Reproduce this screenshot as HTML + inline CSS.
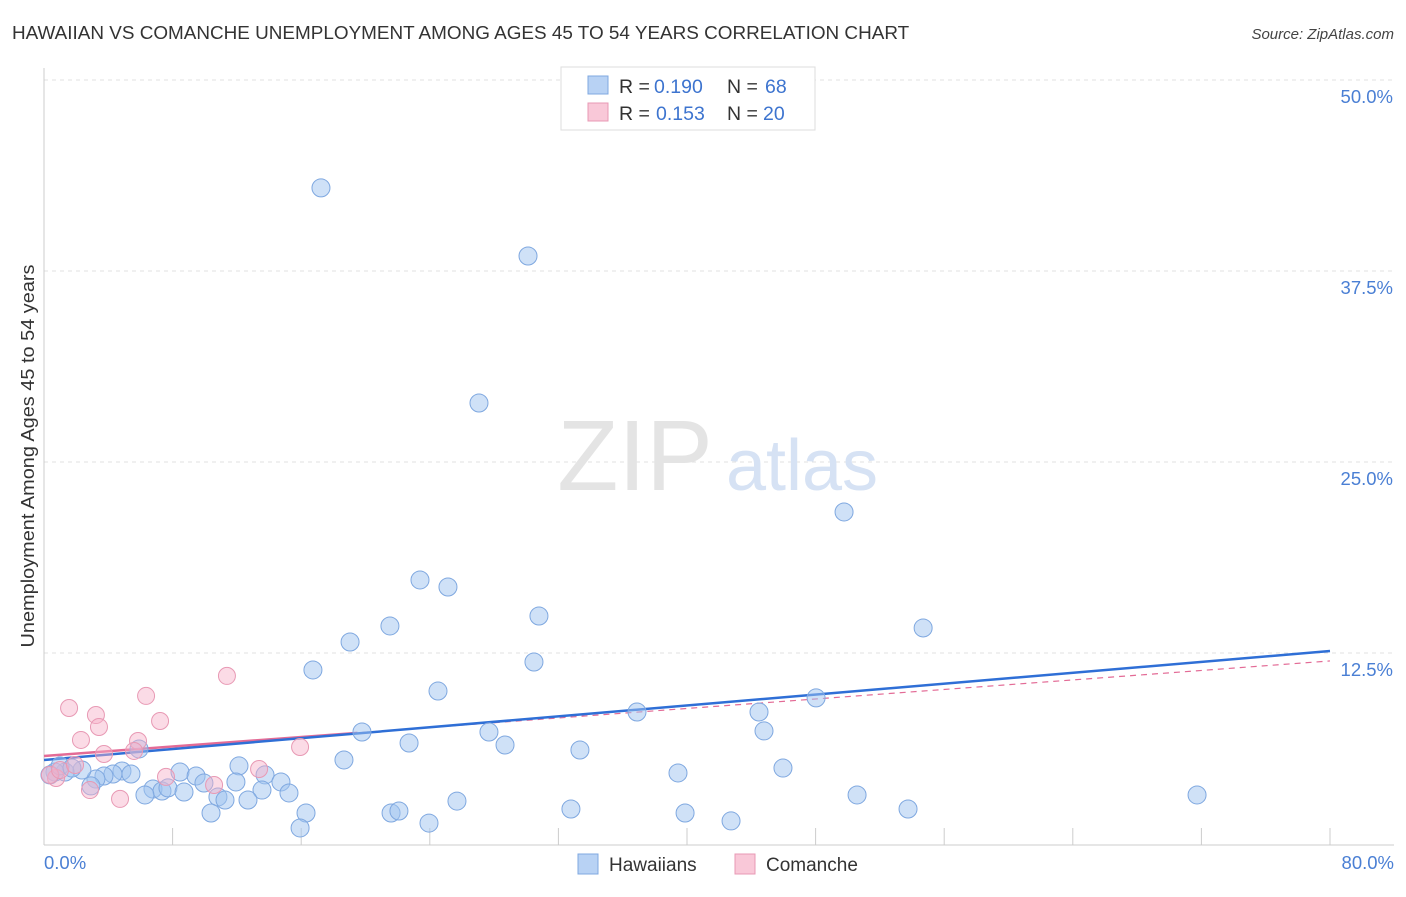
<!DOCTYPE html>
<html><head><meta charset="utf-8">
<style>
body{margin:0;background:#fff;font-family:"Liberation Sans",sans-serif;}
svg text{font-family:"Liberation Sans",sans-serif;}
</style></head>
<body>
<svg id="chart" width="1406" height="892" viewBox="0 0 1406 892" xmlns="http://www.w3.org/2000/svg">
<text x="12" y="39" font-size="18.9" fill="#333">HAWAIIAN VS COMANCHE UNEMPLOYMENT AMONG AGES 45 TO 54 YEARS CORRELATION CHART</text>
<text x="1394" y="39" font-size="15" fill="#444" font-style="italic" text-anchor="end">Source: ZipAtlas.com</text>
<g id="grid"></g>
<g>
<text x="635" y="490" font-size="100" fill="#e4e4e4" text-anchor="middle" font-family="Liberation Serif">ZIP</text>
<text x="802" y="490" font-size="72" fill="#d6e2f4" text-anchor="middle">atlas</text>
</g>
<line x1="44" y1="68" x2="44" y2="845" stroke="#ccc"/>
<line x1="44" y1="845" x2="1394" y2="845" stroke="#ccc"/>
<g id="ticks"></g>
<text transform="translate(34,456) rotate(-90)" font-size="18.5" fill="#333" text-anchor="middle" textLength="383" lengthAdjust="spacingAndGlyphs">Unemployment Among Ages 45 to 54 years</text>
<text x="44" y="869" font-size="18.5" fill="#4a7fd4">0.0%</text>
<text x="1394" y="869" font-size="18.5" fill="#4a7fd4" text-anchor="end">80.0%</text>
<g id="trend"></g>
<g id="pts"></g>
<g>
<rect x="561" y="67" width="254" height="63" fill="#fff" stroke="#ddd"/>
<rect x="588" y="76" width="20" height="18" fill="#b8d2f4" stroke="#7fa8e0"/>
<text x="619" y="93" font-size="19.5" fill="#333">R =</text>
<text x="654" y="93" font-size="19.5" fill="#3d74cf">0.190</text>
<text x="727" y="93" font-size="19.5" fill="#333">N =</text>
<text x="765" y="93" font-size="19.5" fill="#3d74cf">68</text>
<rect x="588" y="103" width="20" height="18" fill="#f9c8d8" stroke="#e899b4"/>
<text x="619" y="120" font-size="19.5" fill="#333">R =</text>
<text x="656" y="120" font-size="19.5" fill="#3d74cf">0.153</text>
<text x="727" y="120" font-size="19.5" fill="#333">N =</text>
<text x="763" y="120" font-size="19.5" fill="#3d74cf">20</text>
</g>
<g>
<rect x="578" y="854" width="20" height="20" fill="#b8d2f4" stroke="#7fa8e0"/>
<text x="609" y="871" font-size="19" fill="#333">Hawaiians</text>
<rect x="735" y="854" width="20" height="20" fill="#f9c8d8" stroke="#e899b4"/>
<text x="766" y="871" font-size="19" fill="#333">Comanche</text>
</g>
</svg>
<script>
const yTicks=[12.5,25,37.5,50];
const yTickLabels=["12.5%","25.0%","37.5%","50.0%"];
const xTicks=[8,16,24,32,40,48,56,64,72,80];
const hawX=[17.23,30.11,27.06,49.77,23.39,25.13,30.79,54.69,21.52,19.04,30.48,16.73,24.51,48.03,36.89,44.48,19.78,27.68,44.79,22.71,28.68,5.91,33.34,18.66,45.97,39.44,12.13,8.46,4.85,5.41,4.29,3.73,3.23,2.36,1.31,0.68,0.37,9.46,11.94,13.75,14.74,9.95,13.56,2.92,6.78,7.34,7.71,8.71,6.28,15.24,10.82,11.26,12.69,50.58,71.73,25.69,16.30,10.39,21.59,22.08,32.78,39.88,53.75,42.74,23.95,15.93,1.00,1.74];
const hawY=[42.94,38.48,28.86,21.73,17.28,16.82,14.92,14.14,14.27,13.22,11.91,11.39,10.01,9.56,8.64,8.64,7.33,7.33,7.40,6.61,6.48,6.22,6.15,5.50,4.97,4.65,5.11,4.71,4.78,4.58,4.58,4.45,4.25,4.84,4.71,4.71,4.52,4.45,4.06,4.52,4.06,3.99,3.53,3.80,3.60,3.47,3.67,3.40,3.21,3.34,3.08,2.88,2.88,3.21,3.21,2.81,2.03,2.03,2.03,2.16,2.29,2.03,2.29,1.51,1.37,1.05,5.11,4.97];
const comX=[11.38,6.35,1.56,3.23,7.22,3.42,2.30,5.85,3.73,15.93,5.60,7.59,13.38,10.58,2.86,4.73,0.75,0.37,1.00,1.93];
const comY=[11.00,9.69,8.90,8.44,8.05,7.66,6.81,6.74,5.89,6.35,6.09,4.39,4.91,3.86,3.53,2.95,4.32,4.52,4.84,5.17];
const hawTrend=[5.50,12.63];
const comTrend=[5.76,11.98];
const NS='http://www.w3.org/2000/svg';
const sx=v=>44+v/80*1286;
const sy=v=>844-v/12.5*191;
function mk(t,a,p){const e=document.createElementNS(NS,t);for(const k in a)e.setAttribute(k,a[k]);p.appendChild(e);return e;}
const grid=document.getElementById('grid'),ticks=document.getElementById('ticks');
yTicks.forEach((v,i)=>{
  const l=mk('line',{x1:44,x2:1394,y1:sy(v),y2:sy(v),stroke:'#e2e2e2','stroke-dasharray':'4,4'},grid);
  
  
  const t=mk('text',{x:1393,y:sy(v)+23,'font-size':18.5,fill:'#4a7fd4','text-anchor':'end'},ticks);
  t.textContent=yTickLabels[i];
  
  
});
xTicks.forEach(v=>{
  const l=mk('line',{x1:sx(v),x2:sx(v),y1:828,y2:845,stroke:'#ccc'},ticks);
  
  
});
const tr=document.getElementById('trend');
let a=mk('line',{x1:sx(0),y1:sy(comTrend[0]),x2:sx(80),y2:sy(comTrend[1]),stroke:'#e36b96','stroke-width':1.2,'stroke-dasharray':'6,5'},tr);


const cEnd=19.5;
a=mk('line',{x1:sx(0),y1:sy(comTrend[0]),x2:sx(cEnd),y2:sy(comTrend[0]+(comTrend[1]-comTrend[0])*cEnd/80),stroke:'#e36b96','stroke-width':2.5},tr);


a=mk('line',{x1:sx(0),y1:sy(hawTrend[0]),x2:sx(80),y2:sy(hawTrend[1]),stroke:'#2f6fd6','stroke-width':2.5},tr);


const pts=document.getElementById('pts');
hawX.forEach((x,i)=>{
  const c=mk('circle',{cx:sx(x),cy:sy(hawY[i]),r:9,fill:'rgba(160,195,240,0.5)',stroke:'#7fa8e0','stroke-width':1},pts);
  
  
});
comX.forEach((x,i)=>{
  const c=mk('circle',{cx:sx(x),cy:sy(comY[i]),r:8.5,fill:'rgba(247,175,200,0.45)',stroke:'#e899b4','stroke-width':1},pts);
  
  
});
</script>
</body></html>
